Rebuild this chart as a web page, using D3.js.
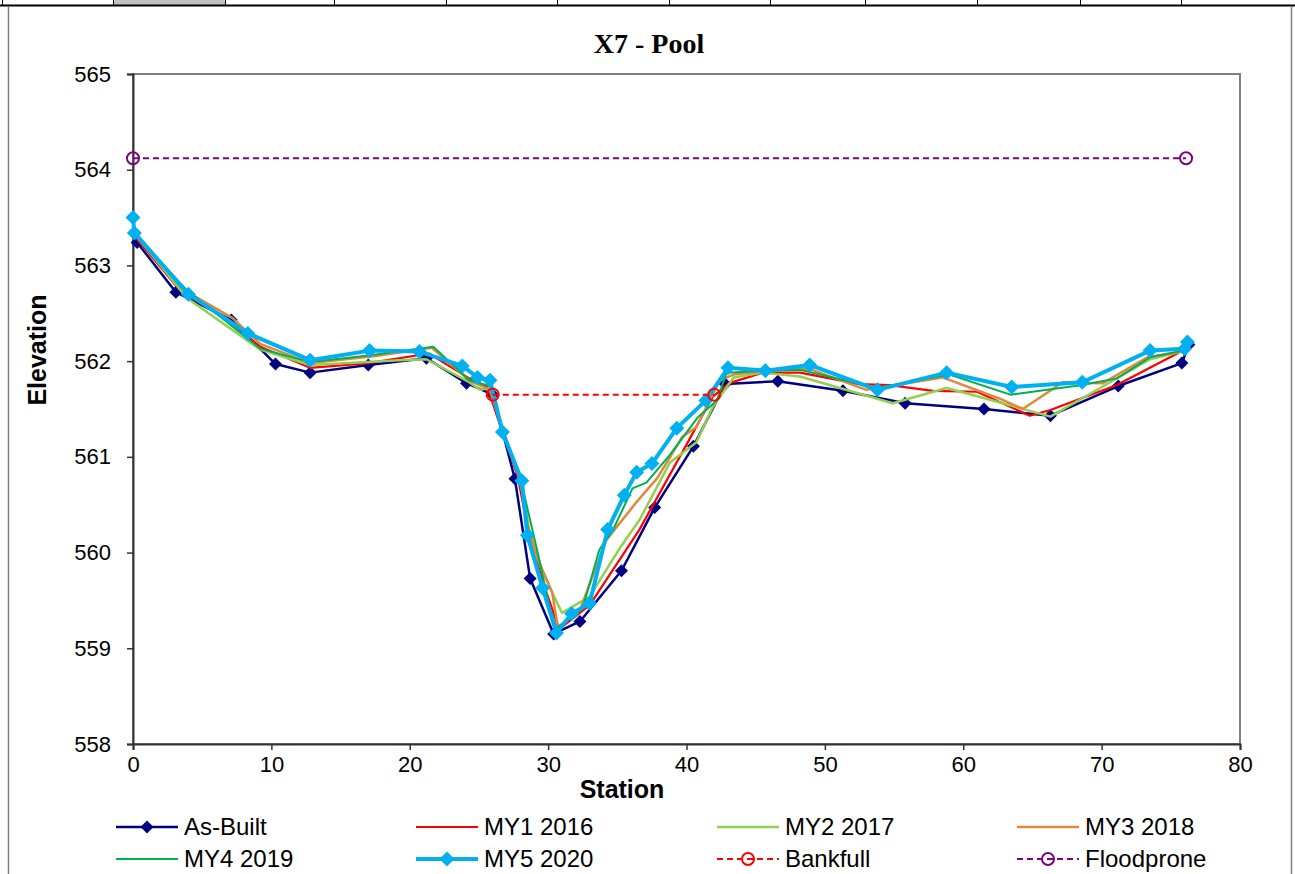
<!DOCTYPE html>
<html>
<head>
<meta charset="utf-8">
<script src="https://cdn.jsdelivr.net/npm/d3@7"></script>
<style>
  body { margin: 0; background: #fff; }
  svg { display: block; font-family: "Liberation Sans", Arial, sans-serif; }
</style>
</head>
<body>
<div id="viz"></div>
<script>
//-------The "Data"-----------
var asBuiltStation = [0.3, 3.1, 7.1, 10.3, 12.8, 17.0, 21.2, 24.1, 26.0, 27.6, 28.7, 30.4, 32.3, 35.3, 37.7, 40.5, 42.8, 46.6, 51.3, 55.8, 61.5, 66.3, 71.2, 75.8, 76.3];
var asBuiltElev = [563.24, 562.72, 562.43, 561.97, 561.88, 561.96, 562.03, 561.77, 561.65, 560.77, 559.73, 559.15, 559.28, 559.81, 560.47, 561.11, 561.76, 561.79, 561.69, 561.56, 561.50, 561.43, 561.74, 561.98, 562.17];

var my1Station = [0.2, 3.4, 7.0, 9.2, 12.8, 17.0, 21.4, 24.3, 25.6, 26.6, 27.8, 28.6, 29.6, 30.8, 33.0, 36.6, 40.2, 41.9, 43.1, 45.5, 48.2, 52.5, 54.7, 57.8, 61.0, 64.8, 66.3, 71.1, 75.6];
var my1Elev = [563.29, 562.74, 562.41, 562.15, 561.93, 561.98, 562.08, 561.82, 561.73, 561.30, 560.80, 560.20, 559.70, 559.20, 559.45, 560.24, 561.18, 561.63, 561.77, 561.88, 561.88, 561.76, 561.75, 561.69, 561.68, 561.43, 561.49, 561.75, 562.09];

var my2Station = [0.3, 3.9, 9.2, 12.8, 19.3, 21.2, 24.3, 25.1, 25.8, 26.8, 28.0, 28.6, 29.5, 30.4, 31.0, 33.0, 35.2, 36.6, 38.8, 40.7, 41.9, 43.4, 45.5, 48.2, 54.9, 58.8, 62.6, 66.3, 73.5, 75.8];
var my2Elev = [563.30, 562.66, 562.12, 561.96, 562.01, 562.02, 561.78, 561.70, 561.72, 561.25, 560.75, 560.25, 559.85, 559.55, 559.37, 559.54, 560.05, 560.34, 560.94, 561.15, 561.52, 561.83, 561.88, 561.84, 561.56, 561.72, 561.57, 561.42, 562.02, 562.10];

var my3Station = [0.3, 3.6, 7.2, 9.2, 12.8, 17.4, 21.6, 24.3, 25.8, 26.8, 28.0, 28.6, 29.2, 30.3, 30.7, 32.3, 34.2, 36.4, 37.9, 39.7, 40.7, 42.4, 43.4, 45.7, 48.9, 53.0, 58.5, 62.6, 64.3, 67.2, 70.1, 73.3, 75.8];
var my3Elev = [563.32, 562.75, 562.45, 562.18, 561.98, 562.05, 562.14, 561.80, 561.70, 561.25, 560.75, 560.25, 559.94, 559.58, 559.22, 559.40, 560.13, 560.53, 560.78, 561.21, 561.31, 561.80, 561.86, 561.90, 561.92, 561.70, 561.83, 561.61, 561.50, 561.78, 561.77, 562.04, 562.10];

var my4Station = [0.3, 3.9, 9.2, 12.8, 17.0, 21.7, 24.3, 25.8, 26.8, 28.0, 28.6, 29.2, 30.1, 30.6, 32.5, 33.7, 34.7, 36.1, 37.1, 38.8, 40.8, 42.2, 42.9, 45.7, 48.2, 53.8, 59.0, 63.4, 68.6, 71.1, 73.5, 75.9];
var my4Elev = [563.30, 562.74, 562.13, 561.99, 562.06, 562.15, 561.80, 561.74, 561.25, 560.78, 560.40, 560.03, 559.43, 559.21, 559.42, 560.03, 560.24, 560.67, 560.73, 561.02, 561.41, 561.59, 561.88, 561.90, 561.91, 561.72, 561.86, 561.65, 561.75, 561.82, 562.04, 562.11];

var my5Station = [0, 0.1, 4.0, 8.3, 12.8, 17.1, 20.7, 23.8, 24.9, 25.8, 26.7, 28.1, 28.5, 29.6, 30.6, 31.7, 33.0, 34.3, 35.5, 36.4, 37.5, 39.3, 41.4, 43.0, 45.7, 48.9, 53.8, 58.8, 63.5, 68.6, 73.5, 76.0, 76.2];
var my5Elev = [563.50, 563.34, 562.70, 562.29, 562.01, 562.11, 562.10, 561.95, 561.83, 561.80, 561.26, 560.75, 560.18, 559.63, 559.16, 559.36, 559.47, 560.24, 560.60, 560.84, 560.93, 561.30, 561.59, 561.93, 561.90, 561.96, 561.70, 561.88, 561.73, 561.78, 562.11, 562.13, 562.20];

var bankfullStation = [26.0, 42.0];
var bankfullElev = [561.65, 561.65];
var floodproneStation = [0, 76.1];
var floodproneElev = [564.12, 564.12];

var xTicks = [0, 10, 20, 30, 40, 50, 60, 70, 80];
var yTicks = [558, 559, 560, 561, 562, 563, 564, 565];
var headerCols = [2, 113, 225, 334, 446, 557, 669, 770, 865, 977, 1080, 1181];

//---------------------------------
var width = 1295,
    height = 874;
var plot = {left: 133, top: 74, width: 1107, height: 670};

var zip = (xs, ys) => xs.map((x, i) => [x, ys[i]]);

var series = [
  {name: "As-Built", data: zip(asBuiltStation, asBuiltElev), color: "#000080", width: 2.5, marker: "diamond", r: 6.5},
  {name: "MY1 2016", data: zip(my1Station, my1Elev), color: "#ff0000", width: 2.2},
  {name: "MY2 2017", data: zip(my2Station, my2Elev), color: "#92d050", width: 2.5},
  {name: "MY3 2018", data: zip(my3Station, my3Elev), color: "#e0883e", width: 2.5},
  {name: "MY4 2019", data: zip(my4Station, my4Elev), color: "#00b050", width: 2},
  {name: "MY5 2020", data: zip(my5Station, my5Elev), color: "#00b0f0", width: 4, marker: "diamond", r: 7.5},
  {name: "Bankfull", data: zip(bankfullStation, bankfullElev), color: "#ff0000", width: 2, dash: "6,4", marker: "circle", r: 6},
  {name: "Floodprone", data: zip(floodproneStation, floodproneElev), color: "#800080", width: 2, dash: "6,4", marker: "circle", r: 6}
];

var svg = d3.select("#viz")
  .append("svg")
    .attr("width", width)
    .attr("height", height);

// spreadsheet header strip above the chart
svg.append("rect")
    .attr("x", headerCols[1]).attr("y", 0)
    .attr("width", headerCols[2] - headerCols[1]).attr("height", 5)
    .style("fill", "#c0c0c0");
svg.selectAll(".hcol")
  .data(headerCols)
  .enter()
  .append("line")
    .attr("x1", d => d + 0.5).attr("x2", d => d + 0.5)
    .attr("y1", 0).attr("y2", 5)
    .style("stroke", "#000").style("stroke-width", 1);
svg.append("line")
    .attr("x1", 0).attr("x2", width)
    .attr("y1", 5.5).attr("y2", 5.5)
    .style("stroke", "#000").style("stroke-width", 2);

// chart border
svg.append("line").attr("x1", 8.5).attr("x2", 8.5).attr("y1", 6).attr("y2", height)
    .style("stroke", "#808080").style("stroke-width", 1.5);
svg.append("line").attr("x1", 1291.5).attr("x2", 1291.5).attr("y1", 6).attr("y2", height)
    .style("stroke", "#808080").style("stroke-width", 1.5);

//------Scales & axes-----------
var xScale = d3.scaleLinear().domain([0, 80]).range([0, plot.width]);
var yScale = d3.scaleLinear().domain([558, 565]).range([plot.height, 0]);

var container = svg.append("g")
    .attr("transform", "translate(" + plot.left + "," + plot.top + ")");

// plot area frame (top/right grey)
container.append("rect")
    .attr("x", 0).attr("y", 0)
    .attr("width", plot.width).attr("height", plot.height)
    .style("fill", "none")
    .style("stroke", "#808080")
    .style("stroke-width", 2);

var gX = container.append("g")
    .attr("transform", "translate(0," + plot.height + ")")
    .call(d3.axisBottom(xScale).tickValues(xTicks).tickSize(6).tickPadding(6).tickFormat(d3.format("d")));
var gY = container.append("g")
    .call(d3.axisLeft(yScale).tickValues(yTicks).tickSize(6).tickPadding(16).tickFormat(d3.format("d")));

[gX, gY].forEach(g => {
  g.select(".domain").style("stroke", "#333").style("stroke-width", 2);
  g.selectAll(".tick line").style("stroke", "#333").style("stroke-width", 1.5);
  g.selectAll(".tick text")
    .style("font-family", "'Liberation Sans', Arial, sans-serif")
    .style("font-size", "22px")
    .style("fill", "#000");
});

//------Titles--------------------
svg.append("text")
    .attr("x", 649).attr("y", 53)
    .attr("text-anchor", "middle")
    .style("font-family", "'Liberation Serif', 'Times New Roman', serif")
    .style("font-weight", "bold")
    .style("font-size", "28px")
    .text("X7 - Pool");

svg.append("text")
    .attr("x", 622).attr("y", 798)
    .attr("text-anchor", "middle")
    .style("font-weight", "bold")
    .style("font-size", "25px")
    .text("Station");

svg.append("text")
    .attr("transform", "translate(46,350) rotate(-90)")
    .attr("text-anchor", "middle")
    .style("font-weight", "bold")
    .style("font-size", "25px")
    .text("Elevation");

//------Plot the data--------------------
var line = d3.line()
    .x(d => xScale(d[0]))
    .y(d => yScale(d[1]));

var diamond = r => "M0," + (-r) + "L" + r + ",0L0," + r + "L" + (-r) + ",0Z";

function drawMarkers(g, s, pts) {
  if (s.marker === "diamond") {
    g.selectAll("path.mk")
      .data(pts)
      .enter()
      .append("path")
        .attr("class", "mk")
        .attr("transform", d => "translate(" + d[0] + "," + d[1] + ")")
        .attr("d", diamond(s.r))
        .style("fill", s.color);
  } else if (s.marker === "circle") {
    g.selectAll("circle.mk")
      .data(pts)
      .enter()
      .append("circle")
        .attr("class", "mk")
        .attr("cx", d => d[0]).attr("cy", d => d[1])
        .attr("r", s.r)
        .style("fill", "none")
        .style("stroke", s.color)
        .style("stroke-width", 2);
  }
}

series.forEach(s => {
  var g = container.append("g");
  g.append("path")
      .datum(s.data)
      .attr("d", line)
      .style("fill", "none")
      .style("stroke", s.color)
      .style("stroke-width", s.width)
      .style("stroke-linejoin", "round")
      .style("stroke-dasharray", s.dash || null);
  drawMarkers(g, s, s.data.map(d => [xScale(d[0]), yScale(d[1])]));
});

//------Legend--------------------
var legendCols = [116, 416, 717, 1017];
var legendRows = [827, 859];
var legend = svg.append("g");

series.forEach((s, i) => {
  var x0 = legendCols[i % 4], y0 = legendRows[Math.floor(i / 4)];
  var g = legend.append("g");
  g.append("line")
      .attr("x1", x0).attr("x2", x0 + 62)
      .attr("y1", y0).attr("y2", y0)
      .style("stroke", s.color)
      .style("stroke-width", s.width)
      .style("stroke-dasharray", s.dash || null);
  drawMarkers(g, s, [[x0 + 31, y0]]);
  g.append("text")
      .attr("x", x0 + 68).attr("y", y0 + 8)
      .style("font-size", "24px")
      .text(s.name);
});
</script>
</body>
</html>
